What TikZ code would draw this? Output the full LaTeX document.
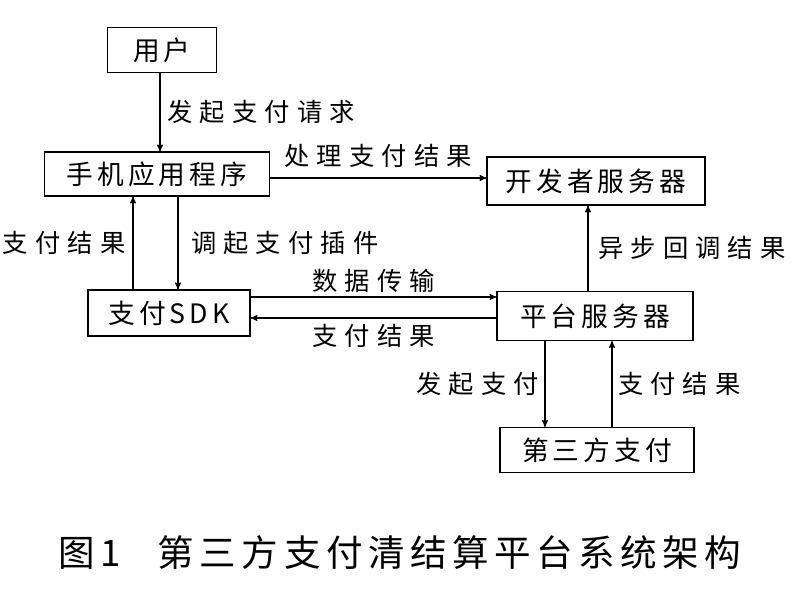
\documentclass[tikz,border=0pt]{standalone}
\usepackage{fontspec}
\setmainfont[LetterSpace=15]{Noto Sans CJK SC}
\newfontfamily\lblfont[LetterSpace=28]{Noto Sans CJK SC}
\usetikzlibrary{positioning, arrows}
\tikzset{
box/.style={draw, thick, inner sep=0pt, font=\fontsize{19}{21}\selectfont}, % boxes of the diagram
lbl/.style={font=\lblfont\fontsize{18}{20}\selectfont, inner sep=1pt}, % connector labels
flow/.style={->, >=stealth', thick},
}
\begin{document}
\begin{tikzpicture}[x=0.025cm, y=-0.025cm]
    \useasboundingbox (0,0) rectangle (800,590);
    \node[box, minimum width=2.72cm, minimum height=1.12cm] (user) at (162,50) {用户};
    \node[box, minimum width=5.62cm, minimum height=1.1cm] (app) at (157,174) {手机应用程序};
    \node[box, minimum width=5.45cm, minimum height=1.2cm] (dev) at (596,181) {开发者服务器};
    \node[box, minimum width=4.05cm, minimum height=1.15cm] (sdk) at (169,313) {支付SDK};
    \node[box, minimum width=4.9cm, minimum height=1.22cm] (plat) at (595,316) {平台服务器};
    \node[box, minimum width=4.85cm, minimum height=1.12cm] (third) at (597,450) {第三方支付};
    \node[font=\fontsize{26}{28}\selectfont] (cap) at (400,553) {图1\quad 第三方支付清结算平台系统架构};

    \draw[flow] (user.south -| 160,0) -- (app.north -| 160,0)
        node[lbl, midway, right=4pt] {发起支付请求};
    \draw[flow] (app.east |- 0,178) -- (dev.west |- 0,178)
        node[lbl, midway, above=6pt] {处理支付结果};
    \draw[flow] (sdk.north -| 133,0) -- (app.south -| 133,0)
        node[lbl, midway, left=4pt] {支付结果};
    \draw[flow] (app.south -| 178,0) -- (sdk.north -| 178,0)
        node[lbl, midway, right=8pt] {调起支付插件};
    \draw[flow] (sdk.east |- 0,297) -- (plat.west |- 0,297)
        node[lbl, midway, above=2pt] {数据传输};
    \draw[flow] (plat.west |- 0,318) -- (sdk.east |- 0,318)
        node[lbl, midway, below=3pt] {支付结果};
    \draw[flow] (plat.north -| 588,0) -- (dev.south -| 588,0)
        node[lbl, midway, right=6pt] {异步回调结果};
    \draw[flow] (plat.south -| 545,0) -- (third.north -| 545,0)
        node[lbl, midway, left=3pt] {发起支付};
    \draw[flow] (third.north -| 612,0) -- (plat.south -| 612,0)
        node[lbl, midway, right=3pt] {支付结果};
\end{tikzpicture}
\end{document}
